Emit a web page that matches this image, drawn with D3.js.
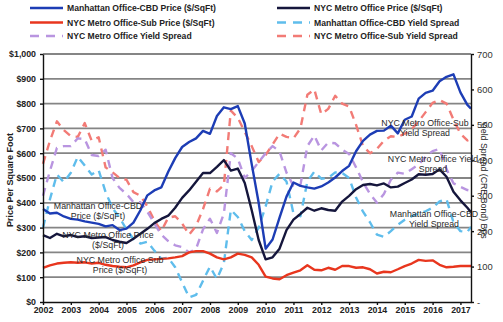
<!DOCTYPE html>
<html>
<head>
<meta charset="utf-8">
<script src="https://cdn.jsdelivr.net/npm/d3@7/dist/d3.min.js"></script>
<style>
	body { margin: 0; background: #fff; }
	text { font-family: "Liberation Sans", Arial, sans-serif; }
</style>
</head>
<body>
<div id="container"></div>
<script>

// quarterly values, 2002 Q1 up to 2017 Q2, last one is May 2017
var dates = d3.range(62).map(function(i){ return 2002 + i / 4; }).concat([2017.38]);

// price series ($/SqFt), left axis
var cbdPrice = [375,357,360,345, 335,332,325,320, 315,305,310,290, 296,320,370,430,
	450,462,525,580, 625,645,660,690, 678,750,785,778, 790,720,556,400,
	215,252,340,425, 482,468,462,457, 466,482,502,528, 549,608,650,675,
	690,691,711,680, 735,748,820,843, 852,890,908,918, 845,795,780];
var metroPrice = [270,258,275,265, 270,262,265,258, 260,262,250,243, 238,255,275,295,
	318,335,348,380, 420,450,485,520, 520,545,572,530, 538,480,370,250,
	172,180,215,290, 332,355,380,368, 378,371,368,405, 428,455,472,476,
	470,478,462,465, 480,494,515,513, 516,535,505,445, 410,380,362];
var subPrice = [138,148,155,158, 160,158,160,155, 158,150,145,142, 140,148,160,170,
	172,174,176,180, 185,200,205,205, 195,180,172,180, 195,190,180,150,
	102,95,92,108, 118,128,148,130, 128,138,130,145, 145,138,140,132,
	115,122,120,132, 145,155,170,166, 168,150,140,142, 145,145,145];

// yield spread series (bps), right axis
var cbdSpread = [210,290,360,338, 365,410,385,360, 372,310,265,238, 205,178,165,170,
	145,122,125,98, 55,13,20,60, 100,65,110,260, 240,200,175,210,
	270,340,362,340, 250,242,340,368, 348,350,366,364, 350,295,255,225,
	190,184,200,218, 232,242,250,256, 266,284,290,225, 200,198,212];
var metroSpread = [300,370,435,440, 440,462,460,415, 412,430,350,322, 305,282,282,255,
	222,190,172,160, 155,140,150,205, 235,195,250,420, 405,350,370,395,
	420,440,425,365, 328,330,440,470, 428,450,448,430, 418,380,338,305,
	280,305,345,365, 362,375,388,410, 426,432,375,335, 325,316,314];
var subSpread = [390,455,510,485, 468,466,505,455, 465,380,366,350, 345,310,300,270,
	230,200,238,242, 222,190,215,262, 320,312,330,540, 520,480,440,395,
	415,445,475,466, 462,490,585,600, 530,545,582,560, 552,500,440,420,
	432,455,468,466, 475,488,510,536, 562,570,560,515, 475,456,460];

// axis ticks
var years = d3.range(2002, 2018);
var priceTicks = d3.range(0, 1001, 100);
var spreadTicks = d3.range(0, 701, 100);

// legend and labels in the plot
var legendNames = ["Manhattan Office-CBD Price ($/SqFt)", "NYC Metro Office Price ($/SqFt)",
	"NYC Metro Office-Sub Price ($/SqFt)", "Manhattan Office-CBD Yield Spread",
	"NYC Metro Office Yield Spread", "NYC Metro Office-Sub Yield Spread"];
var noteLines = [["Manhattan Office-CBD", "Price ($/SqFt)"], ["NYC Metro Office Price", "($/SqFt)"],
	["NYC Metro Office Sub", "Price ($/SqFt)"], ["Manhattan Office-CBD", "Yield Spread"],
	["NYC Metro Office Yield", "Spread"], ["NYC Metro Office-Sub", "Yield Spread"]];

window.onload = function() {

	var w = 503;
	var h = 322;
	var left = 43, right = 471, top = 54, bottom = 302;

	var svg = d3.select("#container")
				.append("svg")
				.attr("width", w)
				.attr("height", h);

	var x = d3.scaleLinear().domain([2002, 2017.38]).range([left, right]);
	var yPrice = d3.scaleLinear().domain([0, 1000]).range([bottom, top]);
	var ySpread = d3.scaleLinear().domain([0, 700]).range([bottom, top]);

	// horizontal grid lines
	svg.append("g")
	   .selectAll("line")
	   .data(priceTicks.slice(1))
	   .enter()
	   .append("line")
	   .attr("x1", left)
	   .attr("x2", right)
	   .attr("y1", function(d){ return yPrice(d); })
	   .attr("y2", function(d){ return yPrice(d); })
	   .attr("stroke", "#858585")
	   .attr("stroke-width", 1.8);

	// series settings, dashed ones first so solid lines sit on top
	var series = [
		{ values: subSpread, scale: ySpread, color: "#f27b76", dash: "8,6" },
		{ values: metroSpread, scale: ySpread, color: "#b995e0", dash: "8,6" },
		{ values: cbdSpread, scale: ySpread, color: "#5fbdec", dash: "8,6" },
		{ values: subPrice, scale: yPrice, color: "#e8361e", dash: null },
		{ values: metroPrice, scale: yPrice, color: "#15163c", dash: null },
		{ values: cbdPrice, scale: yPrice, color: "#1d3db5", dash: null }
	];

	series.forEach(function(s){
		var line = d3.line()
					 .x(function(d, i){ return x(dates[i]); })
					 .y(function(d){ return s.scale(d); });
		svg.append("path")
		   .datum(s.values)
		   .attr("d", line)
		   .attr("fill", "none")
		   .attr("stroke", s.color)
		   .attr("stroke-width", 2.4)
		   .attr("stroke-linejoin", "round")
		   .attr("stroke-dasharray", s.dash);
	});

	// x axis
	var xAxis = d3.axisBottom(x)
				  .tickValues(years)
				  .tickFormat(d3.format("d"))
				  .tickSizeInner(3)
				  .tickSizeOuter(0)
				  .tickPadding(2);
	svg.append("g")
	   .attr("class", "axis")
	   .attr("transform", "translate(0," + bottom + ")")
	   .call(xAxis);

	// left axis
	var yAxis = d3.axisLeft(yPrice)
				  .tickValues(priceTicks)
				  .tickFormat(function(d){ return "$" + d3.format(",")(d); })
				  .tickSizeInner(3)
				  .tickSizeOuter(0)
				  .tickPadding(4);
	svg.append("g")
	   .attr("class", "axis")
	   .attr("transform", "translate(" + left + ",0)")
	   .call(yAxis);

	// right axis, zero shown as a dash
	var yAxis2 = d3.axisRight(ySpread)
				   .tickValues(spreadTicks)
				   .tickFormat(function(d){ return d == 0 ? "-" : d; })
				   .tickSizeInner(3)
				   .tickSizeOuter(0)
				   .tickPadding(3);
	svg.append("g")
	   .attr("class", "axis2")
	   .attr("transform", "translate(" + right + ",0)")
	   .call(yAxis2);

	svg.selectAll(".axis path, .axis2 path, .axis line, .axis2 line")
	   .attr("stroke", "#111")
	   .attr("stroke-width", 1.4);
	svg.selectAll(".axis text")
	   .attr("font-size", "8.8px")
	   .attr("font-weight", "bold")
	   .attr("fill", "#222");
	svg.selectAll(".axis2 text")
	   .attr("font-size", "9.4px")
	   .attr("fill", "#333");

	// axis titles
	svg.append("text")
	   .attr("transform", "translate(13,180) rotate(-90)")
	   .attr("text-anchor", "middle")
	   .attr("font-size", "9px")
	   .attr("font-weight", "bold")
	   .attr("fill", "#222")
	   .text("Price Per Square Foot");
	svg.append("text")
	   .attr("transform", "translate(481,180) rotate(90)")
	   .attr("text-anchor", "middle")
	   .attr("font-size", "8.8px")
	   .attr("fill", "#222")
	   .text("Yield Spread (CRE Bond) Bps");

	// legend, two columns, three rows
	var legendColors = ["#1d3db5", "#15163c", "#e8361e", "#5fbdec", "#b995e0", "#f27b76"];
	var legendDash = [null, null, null, "9,7", "9,7", "9,7"];
	var legendPos = [[30, 8], [277, 8], [30, 22.5], [277, 22.5], [30, 36], [277, 36]];

	var legend = svg.append("g");
	legendNames.forEach(function(name, i){
		var p = legendPos[i];
		legend.append("line")
			  .attr("x1", p[0])
			  .attr("x2", p[0] + 33)
			  .attr("y1", p[1])
			  .attr("y2", p[1])
			  .attr("stroke", legendColors[i])
			  .attr("stroke-width", 2.6)
			  .attr("stroke-dasharray", legendDash[i]);
		legend.append("text")
			  .attr("x", p[0] + 37)
			  .attr("y", p[1] + 3)
			  .attr("font-size", "8.6px")
			  .attr("font-weight", "bold")
			  .attr("fill", "#222")
			  .text(name);
	});

	// labels placed on the lines
	var notePos = [[98, 206], [108, 235], [120, 260], [434, 214], [433, 159], [425, 123]];
	noteLines.forEach(function(lines, i){
		var t = svg.append("text")
				   .attr("text-anchor", "middle")
				   .attr("font-size", "8.8px")
				   .attr("fill", "#2a2a2a");
		lines.forEach(function(l, j){
			t.append("tspan")
			 .attr("x", notePos[i][0])
			 .attr("y", notePos[i][1] + 3 + j * 10)
			 .text(l);
		});
	});
};
</script>
</body>
</html>
